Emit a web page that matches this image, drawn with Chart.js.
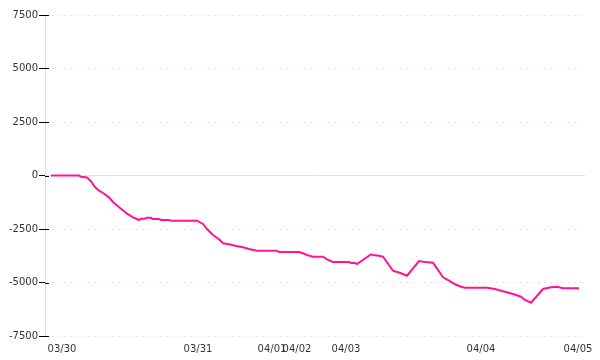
<!DOCTYPE html>
<html>
<head>
<meta charset="utf-8">
<script src="https://cdn.jsdelivr.net/npm/chart.js@4"></script>
<style>
  html, body { margin: 0; padding: 0; background: #fff; }
  #wrap { width: 600px; height: 360px; }
</style>
</head>
<body>
<div id="wrap"><canvas id="linegraph"></canvas></div>
<script>
// position along the time axis (sample step) and value at each vertex
var steps = [0, 14, 15, 18, 20, 22, 24, 26, 29, 31, 35, 38, 41, 44, 45, 47, 48, 50, 51, 54, 55, 59, 60,
    73, 76, 78, 81, 84, 86, 89, 92, 96, 99, 103, 113, 114, 124, 126, 128, 131, 136, 138, 141, 149, 150,
    152, 153, 160, 161, 164, 166, 171, 175, 178, 184, 186, 191, 196, 199, 202, 205, 207, 218, 222, 225,
    228, 231, 235, 237, 240, 246, 250, 253, 256, 264];
var values = [0, 0, -60, -90, -270, -537, -710, -818, -1020, -1238, -1551, -1785, -1953, -2080, -2019, -2019,
    -1972, -1972, -2033, -2033, -2080, -2080, -2112,
    -2112, -2266, -2500, -2780, -2981, -3168, -3215, -3280, -3355, -3435, -3514, -3514, -3575, -3575, -3636,
    -3715, -3795, -3795, -3916, -4042, -4042, -4089,
    -4089, -4136, -3682, -3715, -3748, -3795, -4449, -4570, -4682, -3995, -4028, -4075, -4757, -4916, -5084,
    -5196, -5243, -5243, -5304, -5383,
    -5458, -5538, -5664, -5818, -5944, -5304, -5224, -5196, -5271, -5271];

// day labels and where they sit on the axis
var dayLabels = ['03/30', '03/31', '04/01', '04/02', '04/03', '04/04', '04/05'];
var dayTicks = [5.5, 73.5, 110.5, 123, 147.5, 215, 263.5];

var yTicks = [-7500, -5000, -2500, 0, 2500, 5000, 7500];

var points = steps.map(function (t, i) { return { x: t, y: values[i] }; });

// y tick marks cross the axis line, so draw the inner half too
var innerTicks = {
    id: 'innerTicks',
    afterDraw: function (chart) {
        var y = chart.scales.y, c = chart.ctx, left = chart.chartArea.left;
        c.save();
        c.strokeStyle = '#000';
        c.lineWidth = 1;
        y.ticks.forEach(function (t) {
            var py = Math.round(y.getPixelForValue(t.value)) + 0.5;
            c.beginPath();
            c.moveTo(left, py);
            c.lineTo(left + 4, py);
            c.stroke();
        });
        c.restore();
    }
};

var ctx = document.getElementById('linegraph').getContext('2d');
var chart = new Chart(ctx, {
    type: 'line',
    data: {
        datasets: [{
            data: points,
            borderColor: 'rgb(255, 20, 147)',
            borderWidth: 2,
            pointRadius: 0,
            tension: 0,
            fill: false
        }]
    },
    plugins: [innerTicks],
    options: {
        responsive: true,
        maintainAspectRatio: false,
        animation: false,
        layout: { padding: { top: 15, right: 15, bottom: 0, left: 0 } },
        plugins: {
            legend: { display: false },
            tooltip: { enabled: false }
        },
        scales: {
            x: {
                type: 'linear',
                min: -3,
                max: 267,
                grid: { display: false, tickLength: 0 },
                border: { display: false },
                afterBuildTicks: function (axis) {
                    axis.ticks = dayTicks.map(function (v) { return { value: v }; });
                },
                afterFit: function (axis) { axis.height = 24; },
                ticks: {
                    autoSkip: false,
                    maxRotation: 0,
                    padding: 7,
                    color: '#333',
                    font: { family: 'DejaVu Sans', size: 10 },
                    callback: function (v) { return dayLabels[dayTicks.indexOf(v)]; }
                }
            },
            y: {
                min: -7500,
                max: 7500,
                afterBuildTicks: function (axis) {
                    axis.ticks = yTicks.map(function (v) { return { value: v }; });
                },
                afterFit: function (axis) { axis.width = 45; },
                grid: {
                    color: function (c) { return c.tick && c.tick.value === 0 ? '#dddddd' : '#e6e6e6'; },
                    tickColor: '#000',
                    tickLength: 6,
                    lineWidth: 1
                },
                border: {
                    color: '#dddddd',
                    dash: function (c) { return c.tick && c.tick.value !== 0 ? [2, 4] : []; }
                },
                ticks: {
                    padding: 1,
                    color: '#333',
                    font: { family: 'DejaVu Sans', size: 10 },
                    callback: function (v) { return String(v); }
                }
            }
        }
    }
});
</script>
</body>
</html>
